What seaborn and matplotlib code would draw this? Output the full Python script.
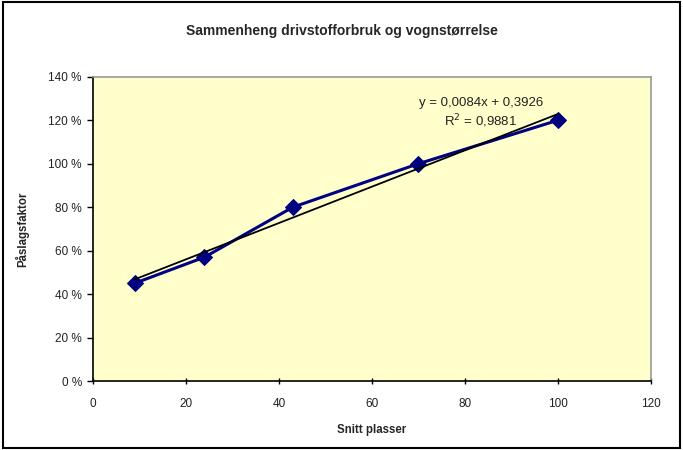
import matplotlib.pyplot as plt
import seaborn as sns
import numpy as np
import pandas as pd
from matplotlib.ticker import FuncFormatter
from matplotlib.patches import Rectangle

sns.set_theme(style="white")
plt.rcParams['font.family'] = ['Liberation Sans', 'DejaVu Sans']

# data
seats = [9, 24, 43, 70, 100]
factor = [0.45, 0.57, 0.80, 1.00, 1.20]
df = pd.DataFrame({'Snitt plasser': seats, 'Påslagsfaktor': factor})

# linear trendline (Excel style)
slope, intercept = np.polyfit(seats, factor, 1)
r2 = np.corrcoef(seats, factor)[0, 1] ** 2
trend_x = np.array([min(seats), max(seats)])

fig = plt.figure(figsize=(6.83, 4.5), dpi=100)
ax = fig.add_axes([0.136, 0.1533, 0.817, 0.676])
ax.set_facecolor('#FFFFCC')

sns.lineplot(data=df, x='Snitt plasser', y='Påslagsfaktor', ax=ax, color='#000080',
             linewidth=2.2, marker='D', markersize=8, markeredgecolor='#000080', zorder=3)
ax.plot(trend_x, slope * trend_x + intercept, color='black', linewidth=1.3, zorder=4)

ax.set_xlim(0, 120)
ax.set_ylim(0, 1.4)
ax.set_xticks(np.arange(0, 121, 20))
ax.set_yticks(np.arange(0, 1.41, 0.2))
ax.yaxis.set_major_formatter(FuncFormatter(lambda v, p: f"{v * 100:.0f} %"))
ax.tick_params(axis='both', labelsize=8.5, colors='black', length=4, width=1, pad=3)
ax.tick_params(axis='x', direction='inout', pad=10)
ax.tick_params(axis='y', direction='out', pad=4)
ax.tick_params(left=True, bottom=True)
for lbl in ax.get_xticklabels() + ax.get_yticklabels():
    lbl.set_color('#222222')

for s in ['left', 'bottom']:
    ax.spines[s].set_color('black')
    ax.spines[s].set_linewidth(1.2)
for s in ['top', 'right']:
    ax.spines[s].set_color('#999999')
    ax.spines[s].set_linewidth(1.2)

ax.set_xlabel('Snitt plasser', fontsize=8.3, fontweight='bold', labelpad=10)
ax.set_ylabel('Påslagsfaktor', fontsize=8.3, fontweight='bold', labelpad=14)

eq = f"y = {slope:.4f}x + {intercept:.4f}".replace('.', ',')
ax.text(0.695, 0.914, eq, transform=ax.transAxes, fontsize=9.5, ha='center', va='center', color='#222222')
ax.text(0.695, 0.855, f"R$^2$ = {r2:.4f}".replace('.', ','), transform=ax.transAxes,
        fontsize=9.5, ha='center', va='center', color='#222222')

fig.text(0.5, 0.932, 'Sammenheng drivstofforbruk og vognstørrelse', ha='center', va='center',
         fontsize=10, fontweight='bold')

fig.patches.append(Rectangle((0.004, 0.004), 0.992, 0.992, transform=fig.transFigure,
                             fill=False, edgecolor='black', linewidth=1.5))

fig.savefig('out.png', dpi=100)
